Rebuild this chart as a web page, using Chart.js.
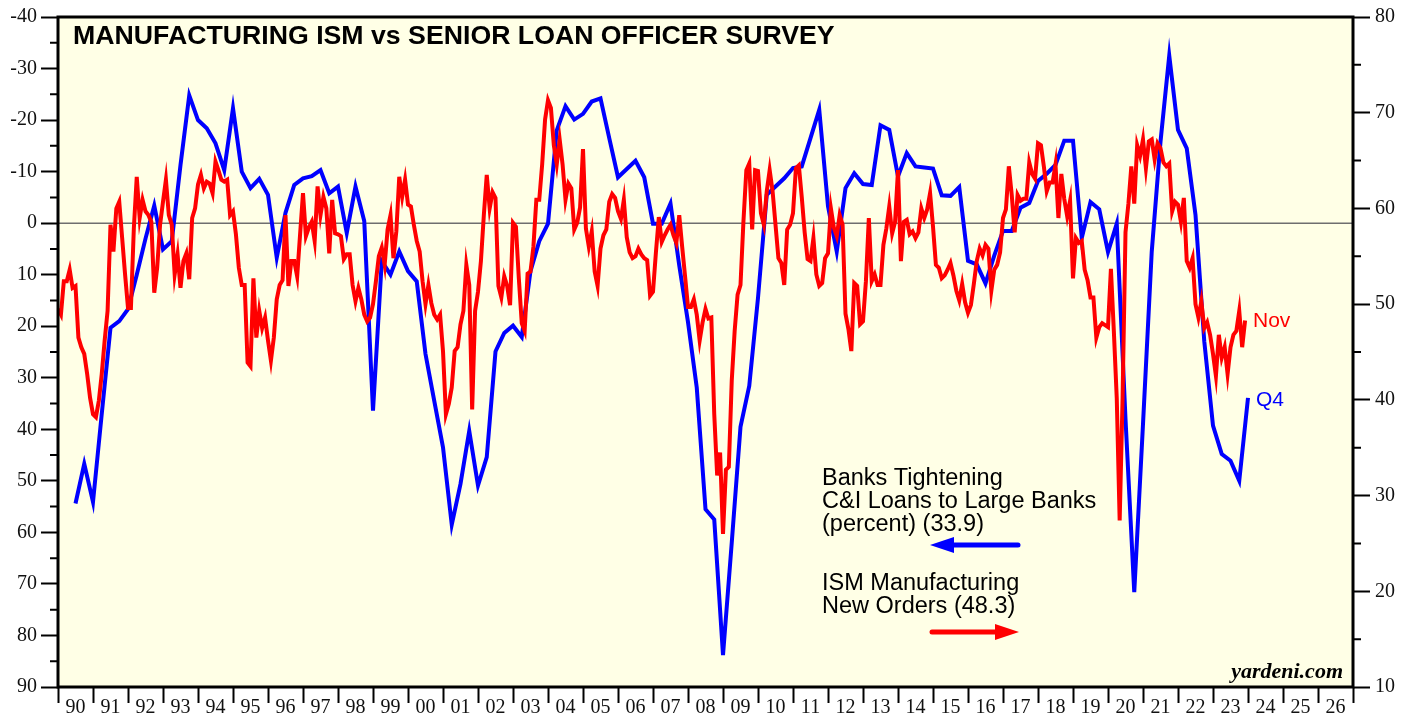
<!DOCTYPE html>
<html>
<head>
<meta charset="utf-8">
<script src="https://cdn.jsdelivr.net/npm/chart.js@4.4.0/dist/chart.umd.min.js"></script>
<style>
  html, body { margin: 0; padding: 0; background: #fff; }
  canvas { display: block; }
</style>
</head>
<body>
<canvas id="chart" width="1413" height="719"></canvas>
<script>
// ISM manufacturing new orders index (right axis), monthly, first value = Dec 1989
const ismStart = [1989, 12];
const ismNewOrders = [
  49.5,
  48.9, 52.4, 52.4, 53.6, 51.7, 51.9, 46.5, 45.5, 44.8, 42.7, 40.2, 38.5, // 1990
  38.2, 39.9, 42.7, 46.2, 49.3, 58.3, 55.5, 60.0, 60.7, 56.9, 53.1, 49.6, // 1991
  49.6, 57.9, 63.3, 59.0, 60.9, 59.7, 59.3, 58.6, 51.2, 53.8, 58.3, 60.7, // 1992
  63.0, 59.3, 58.3, 53.1, 55.2, 51.7, 54.5, 55.3, 52.6, 59.0, 60.0, 62.5, // 1993
  63.5, 62.1, 62.8, 62.6, 61.6, 64.9, 64.0, 63.0, 62.8, 63.0, 59.3, 59.7, // 1994
  57.3, 53.8, 52.0, 52.0, 43.9, 43.5, 52.7, 46.5, 49.3, 47.5, 48.6, 46.2, // 1995
  44.1, 46.5, 50.5, 52.0, 52.5, 59.3, 51.9, 54.5, 54.5, 52.9, 57.3, 61.6, // 1996
  57.1, 58.0, 58.6, 56.6, 62.3, 59.3, 61.2, 60.0, 55.3, 60.9, 57.4, 57.3, // 1997
  57.1, 54.7, 55.2, 55.2, 52.0, 50.3, 51.7, 50.5, 48.9, 48.2, 48.6, 50.0, // 1998
  52.4, 55.0, 55.9, 54.1, 57.8, 59.3, 54.8, 57.6, 63.3, 61.2, 63.0, 60.4, // 1999
  60.2, 58.3, 56.6, 55.5, 52.4, 50.0, 52.0, 50.1, 48.9, 48.4, 48.9, 45.1, // 2000
  38.5, 39.6, 41.3, 45.1, 45.5, 47.9, 49.3, 54.1, 52.0, 39.0, 49.3, 51.3, // 2001
  54.5, 59.3, 63.5, 60.0, 61.7, 61.1, 51.9, 50.7, 52.9, 51.9, 49.9, 58.5, // 2002
  58.1, 52.7, 48.0, 47.2, 53.2, 53.4, 56.0, 60.9, 60.9, 64.6, 69.3, 71.3, // 2003
  70.5, 66.6, 64.6, 67.2, 64.6, 60.9, 62.6, 62.1, 57.8, 58.5, 60.1, 66.2, // 2004
  57.9, 56.0, 57.6, 53.4, 51.9, 55.8, 57.2, 57.8, 60.7, 61.5, 61.1, 59.7, // 2005
  58.9, 60.9, 57.0, 55.4, 54.8, 55.0, 55.8, 55.2, 54.8, 54.6, 50.9, 51.3, // 2006
  55.4, 59.1, 56.5, 57.2, 57.8, 58.3, 57.2, 56.4, 59.3, 56.0, 52.9, 49.7, // 2007
  49.7, 50.5, 48.9, 46.2, 48.1, 49.5, 48.5, 48.6, 38.5, 32.1, 34.5, 26.0, // 2008
  32.7, 33.0, 42.0, 47.2, 51.0, 52.0, 58.6, 64.0, 64.7, 57.8, 64.0, 63.9, // 2009
  59.5, 58.3, 61.8, 64.0, 61.8, 58.3, 54.8, 54.3, 52.0, 57.8, 58.3, 59.5, // 2010
  64.2, 64.5, 61.2, 57.5, 54.7, 54.5, 56.9, 53.1, 51.9, 52.2, 54.8, 55.3, // 2011
  60.0, 58.0, 57.1, 59.3, 58.3, 49.0, 47.4, 45.1, 52.2, 51.9, 47.9, 48.2, // 2012
  52.4, 59.0, 52.4, 53.1, 52.0, 52.0, 56.2, 57.9, 60.2, 57.4, 58.6, 64.0, // 2013
  54.5, 58.6, 58.8, 57.3, 57.6, 56.9, 57.5, 60.0, 59.0, 59.9, 61.6, 58.1, // 2014
  54.1, 53.8, 52.7, 53.0, 53.6, 54.3, 53.0, 51.4, 50.4, 52.1, 50.2, 49.1, // 2015
  49.9, 52.1, 54.5, 55.8, 55.1, 56.2, 55.8, 51.4, 53.6, 54.1, 55.4, 59.0, // 2016
  59.9, 64.4, 61.4, 57.5, 61.4, 60.8, 61.0, 61.0, 64.8, 63.6, 63.1, 66.8, // 2017
  66.6, 64.4, 61.8, 62.7, 62.7, 64.6, 59.0, 63.6, 61.0, 59.2, 60.8, 52.7, // 2018
  56.9, 56.4, 56.6, 53.6, 52.5, 50.7, 50.7, 46.5, 47.6, 48.0, 47.8, 47.6, // 2019
  53.7, 47.2, 40.2, 27.4, 40.2, 57.5, 60.5, 64.4, 60.5, 66.6, 65.5, 67.2, // 2020
  64.2, 67.0, 67.2, 65.1, 66.8, 66.3, 64.8, 64.4, 64.7, 59.7, 60.7, 60.4, // 2021
  58.6, 61.1, 54.5, 53.8, 54.8, 50.0, 48.6, 50.3, 47.5, 48.1, 46.8, 44.8, // 2022
  42.5, 46.8, 44.4, 45.5, 42.7, 45.5, 46.8, 47.2, 49.3, 45.5, 48.3        // 2023
];

// Banks tightening C&I loans to large firms, percent (left axis, inverted), quarterly, first value = 1990 Q2
const sloosStart = [1990, 2];
const sloosTightening = [
  54.4, 46.7, 54.1,          // 1990
  37.0, 20.3, 19.0, 16.7,    // 1991
  10.0, 3.0, -3.4, 5.1,      // 1992
  3.5, -11.3, -24.8, -20.0,  // 1993
  -18.4, -15.5, -10.3, -22.3,// 1994
  -10.0, -6.8, -8.6, -5.5,   // 1995
  6.7, -2.0, -7.4, -8.7,     // 1996
  -9.1, -10.3, -5.8, -7.1,   // 1997
  1.9, -7.1, -0.4, 36.4,     // 1998
  7.4, 10.0, 5.5, 9.3,       // 1999
  11.3, 25.4, 34.5, 43.5,    // 2000
  58.5, 50.6, 40.3, 50.9,    // 2001
  45.4, 24.9, 21.3, 19.9,    // 2002
  22.1, 9.3, 3.5, 0.1,       // 2003
  -18.0, -22.7, -20.1, -21.2,// 2004
  -23.6, -24.2, -16.5, -8.9, // 2005
  -10.5, -12.1, -8.9, 0.1,   // 2006
  0.1, -3.8, 8.2, 19.2,      // 2007
  31.9, 55.5, 57.5, 83.8,    // 2008
  62.0, 39.5, 31.6, 14.5,    // 2009
  -5.5, -7.1, -8.7, -10.7,   // 2010
  -11.0, -16.5, -22.0, -3.3, // 2011
  5.5, -6.8, -9.7, -7.6,     // 2012
  -7.4, -19.0, -18.1, -9.1,  // 2013
  -13.6, -11.0, -10.8, -10.6,// 2014
  -5.4, -5.3, -7.0, 7.3,     // 2015
  8.0, 11.7, 6.3, 1.5,       // 2016
  1.5, -3.0, -3.9, -8.2,     // 2017
  -9.6, -11.3, -16.0, -16.0, // 2018
  2.9, -4.1, -2.7, 5.6,      // 2019
  0.1, 38.0, 71.6, 39.0,     // 2020
  5.5, -15.8, -32.5, -18.1,  // 2021
  -14.5, -1.6, 22.9, 39.3,   // 2022
  44.8, 46.1, 50.0, 33.9     // 2023
];

const yearLabels = ['90','91','92','93','94','95','96','97','98','99','00','01','02','03','04','05','06','07','08','09',
  '10','11','12','13','14','15','16','17','18','19','20','21','22','23','24','25','26'];
const leftMinorTicks = [-35, -25, -15, -5, 5, 15, 25, 35, 45, 55, 65, 75, 85];
const rightMinorTicks = [15, 25, 35, 45, 55, 65, 75];

// values are plotted at the end of their month / quarter
const ismPoints = ismNewOrders.map((v, i) => ({ x: ismStart[0] + (ismStart[1] + i) / 12, y: v }));
const sloosPoints = sloosTightening.map((v, i) => ({ x: sloosStart[0] + (sloosStart[1] + i) * 3 / 12, y: v }));

const serif = '"Liberation Serif", "Times New Roman", serif';
const sans = '"Liberation Sans", Arial, sans-serif';

function arrow(ctx, x1, x2, y, color) {
  // line from x1 to the tip at x2
  const dir = Math.sign(x2 - x1);
  ctx.save();
  ctx.strokeStyle = color;
  ctx.fillStyle = color;
  ctx.lineWidth = 5;
  ctx.lineCap = 'round';
  ctx.beginPath();
  ctx.moveTo(x1, y);
  ctx.lineTo(x2 - dir * 18, y);
  ctx.stroke();
  ctx.beginPath();
  ctx.moveTo(x2, y);
  ctx.lineTo(x2 - dir * 24, y - 8);
  ctx.lineTo(x2 - dir * 24, y + 8);
  ctx.closePath();
  ctx.fill();
  ctx.restore();
}

const decorations = {
  id: 'decorations',
  beforeDraw(chart) {
    const { ctx, chartArea: a } = chart;
    ctx.save();
    ctx.fillStyle = '#ffffff';
    ctx.fillRect(0, 0, chart.width, chart.height);
    ctx.fillStyle = '#FFFFE6';
    ctx.fillRect(a.left, a.top, a.right - a.left, a.bottom - a.top);
    ctx.restore();
  },
  beforeDatasetsDraw(chart) {
    const { ctx, chartArea: a, scales } = chart;
    const y0 = scales.y.getPixelForValue(0);
    ctx.save();
    ctx.strokeStyle = '#6e6e6e';
    ctx.lineWidth = 1.5;
    ctx.beginPath();
    ctx.moveTo(a.left, y0);
    ctx.lineTo(a.right, y0);
    ctx.stroke();
    ctx.restore();
  },
  afterDraw(chart) {
    const { ctx, chartArea: a, scales } = chart;
    ctx.save();
    // frame
    ctx.strokeStyle = '#000';
    ctx.lineWidth = 3;
    ctx.strokeRect(a.left, a.top, a.right - a.left, a.bottom - a.top);
    // minor ticks
    ctx.lineWidth = 2;
    ctx.beginPath();
    leftMinorTicks.forEach(v => {
      const y = scales.y.getPixelForValue(v);
      ctx.moveTo(a.left - 8, y);
      ctx.lineTo(a.left, y);
    });
    rightMinorTicks.forEach(v => {
      const y = scales.y1.getPixelForValue(v);
      ctx.moveTo(a.right, y);
      ctx.lineTo(a.right + 8, y);
    });
    ctx.stroke();

    // title
    ctx.fillStyle = '#000';
    ctx.font = 'bold 26.7px ' + sans;
    ctx.textBaseline = 'alphabetic';
    ctx.textAlign = 'left';
    ctx.fillText('MANUFACTURING ISM vs SENIOR LOAN OFFICER SURVEY', 73, 44);

    // end labels
    ctx.font = '21px ' + sans;
    ctx.fillStyle = '#FF0000';
    ctx.fillText('Nov', 1253, 327);
    ctx.fillStyle = '#0000FF';
    ctx.fillText('Q4', 1256, 406);

    // legend text
    ctx.font = '23.5px ' + sans;
    ctx.fillStyle = '#000';
    ctx.fillText('Banks Tightening', 822, 485);
    ctx.fillText('C&I Loans to Large Banks', 822, 508);
    ctx.fillText('(percent) (33.9)', 822, 531);
    ctx.fillText('ISM Manufacturing', 822, 590);
    ctx.fillText('New Orders (48.3)', 822, 613);
    arrow(ctx, 1018, 930, 545, '#0000FF');
    arrow(ctx, 932, 1019, 632, '#FF0000');

    // source
    ctx.font = 'italic bold 22px ' + serif;
    ctx.textAlign = 'right';
    ctx.fillText('yardeni.com', 1343, 678);
    ctx.restore();
  }
};

new Chart(document.getElementById('chart').getContext('2d'), {
  type: 'line',
  data: {
    datasets: [
      {
        label: 'ISM Manufacturing New Orders',
        data: ismPoints,
        yAxisID: 'y1',
        borderColor: '#FF0000',
        borderWidth: 4,
        pointRadius: 0,
        tension: 0,
        fill: false,
      },
      {
        label: 'Banks Tightening C&I Loans to Large Banks',
        data: sloosPoints,
        yAxisID: 'y',
        borderColor: '#0000FF',
        borderWidth: 4,
        pointRadius: 0,
        tension: 0,
        fill: false,
      },
    ],
  },
  options: {
    responsive: false,
    animation: false,
    layout: { padding: { top: 15, left: 0, right: 0, bottom: 0 } },
    plugins: {
      legend: { display: false },
      tooltip: { enabled: false },
    },
    scales: {
      x: {
        type: 'linear',
        min: 1990,
        max: 2027,
        afterFit: s => { s.height = 32; },
        border: { display: false },
        grid: { drawOnChartArea: false, drawTicks: true, tickLength: 16, tickWidth: 2, tickColor: '#000' },
        ticks: {
          stepSize: 1,
          maxTicksLimit: 100,
          autoSkip: false,
          maxRotation: 0,
          minRotation: 0,
          labelOffset: 17.5,
          padding: -7,
          color: '#111',
          font: { family: serif, size: 20 },
          callback: v => yearLabels[v - 1990] || '',
        },
      },
      y: {
        position: 'left',
        reverse: true,
        min: -40,
        max: 90,
        afterFit: s => { s.width = 58; },
        border: { display: false },
        grid: { drawOnChartArea: false, drawTicks: true, tickLength: 17, tickWidth: 2, tickColor: '#000' },
        ticks: { stepSize: 10, padding: 4, color: '#111', font: { family: serif, size: 20 } },
      },
      y1: {
        position: 'right',
        min: 10,
        max: 80,
        afterFit: s => { s.width = 60; },
        border: { display: false },
        grid: { drawOnChartArea: false, drawTicks: true, tickLength: 17, tickWidth: 2, tickColor: '#000' },
        ticks: { stepSize: 10, padding: 5, color: '#111', font: { family: serif, size: 20 } },
      },
    },
  },
  plugins: [decorations],
});
</script>
</body>
</html>
